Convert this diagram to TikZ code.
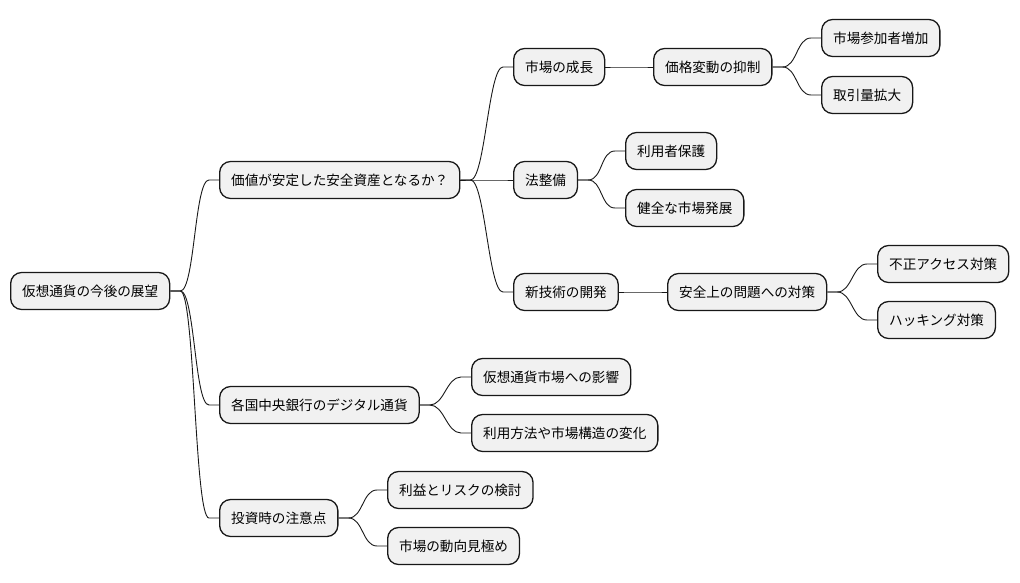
\documentclass[tikz,border=0pt]{standalone}
\usepackage{fontspec}
\newfontfamily\cjk{Noto Sans CJK JP}
\usetikzlibrary{calc}
\definecolor{nodefill}{HTML}{F1F1F1}
\definecolor{nodeline}{HTML}{181818}
\tikzset{
  mm/.style={draw=nodeline, fill=nodefill, line width=1.3pt, rounded corners=11pt,
    minimum height=37pt, inner xsep=11.5pt, inner ysep=0pt, anchor=west,
    font=\cjk\fontsize{13.6}{16}\selectfont, text=black},
  link/.style={draw=nodeline, line width=0.9pt}
}
\newcommand{\mmlink}[2]{\draw[link] (#1.east) -- ++(10,0) .. controls +(14.5,0) and +(-14.5,0) .. ($(#2.west)+(-10,0)$) -- (#2.west);}
\begin{document}
\begin{tikzpicture}[x=1pt,y=-1pt]
\useasboundingbox (0,0) rectangle (1020,583);
\node[mm] (root) at (10,291) {仮想通貨の今後の展望};
\node[mm] (n1) at (219,180) {価値が安定した安全資産となるか？};
\node[mm] (n2) at (219,405) {各国中央銀行のデジタル通貨};
\node[mm] (n3) at (219,518) {投資時の注意点};
\node[mm] (n11) at (513,67) {市場の成長};
\node[mm] (n12) at (513,180) {法整備};
\node[mm] (n13) at (513,292) {新技術の開発};
\node[mm] (n111) at (653,67) {価格変動の抑制};
\node[mm] (n1111) at (821,38) {市場参加者増加};
\node[mm] (n1112) at (821,95) {取引量拡大};
\node[mm] (n121) at (625,151) {利用者保護};
\node[mm] (n122) at (625,208) {健全な市場発展};
\node[mm] (n131) at (667,292) {安全上の問題への対策};
\node[mm] (n1311) at (877,264) {不正アクセス対策};
\node[mm] (n1312) at (877,320) {ハッキング対策};
\node[mm] (n21) at (471,377) {仮想通貨市場への影響};
\node[mm] (n22) at (471,433) {利用方法や市場構造の変化};
\node[mm] (n31) at (387,490) {利益とリスクの検討};
\node[mm] (n32) at (387,546) {市場の動向見極め};
\mmlink{root}{n1}
\mmlink{root}{n2}
\mmlink{root}{n3}
\mmlink{n1}{n11}
\mmlink{n1}{n12}
\mmlink{n1}{n13}
\mmlink{n11}{n111}
\mmlink{n111}{n1111}
\mmlink{n111}{n1112}
\mmlink{n12}{n121}
\mmlink{n12}{n122}
\mmlink{n13}{n131}
\mmlink{n131}{n1311}
\mmlink{n131}{n1312}
\mmlink{n2}{n21}
\mmlink{n2}{n22}
\mmlink{n3}{n31}
\mmlink{n3}{n32}
\end{tikzpicture}
\end{document}
